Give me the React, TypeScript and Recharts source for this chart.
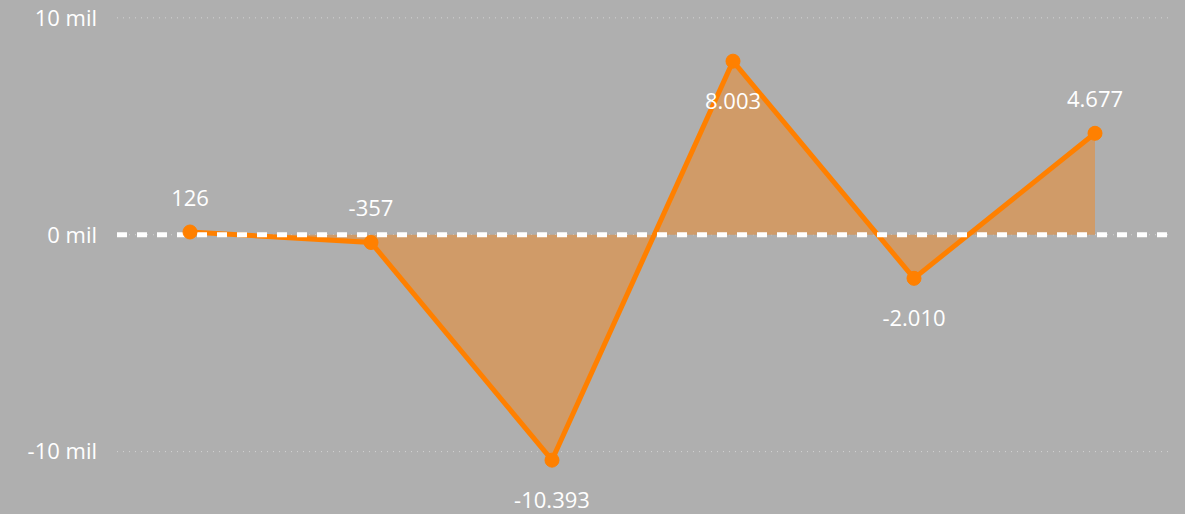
import { ComposedChart, Area, XAxis, YAxis, CartesianGrid, ReferenceLine, LabelList } from "recharts"

const categories = ["P1", "P2", "P3", "P4", "P5", "P6"]
const values = [126, -357, -10393, 8003, -2010, 4677]
const yTicks = [-10000, 0, 10000]

const data = categories.map((name, i) => ({ name, value: values[i] }))

const formatNumber = (v: number) => {
  const s = Math.abs(v).toString().replace(/\B(?=(\d{3})+(?!\d))/g, ".")
  return v < 0 ? `-${s}` : s
}

const formatTick = (v: number) => `${Math.round(v / 1000)} mil`

const ValueLabel = (props: any) => {
  const { x, y, value } = props
  // near the top edge or clearly negative -> below the point
  const below = y < 80 || value < -1000
  return (
    <text
      x={x}
      y={below ? y + 48 : y - 26}
      fill="#ffffff"
      fontSize={22}
      textAnchor="middle"
    >
      {formatNumber(value)}
    </text>
  )
}

export default function App() {
  return (
    <div
      style={{
        position: "absolute",
        left: 0,
        top: 0,
        width: 1185,
        height: 514,
        background: "#afafaf",
        fontFamily: "'Open Sans', sans-serif",
      }}
    >
      <ComposedChart width={1185} height={514} data={data} margin={{ top: 7, right: 15, bottom: 19, left: 0 }}>
        <CartesianGrid vertical={false} stroke="#d4d4d4" strokeDasharray="1 5" horizontalValues={yTicks} />
        <XAxis dataKey="name" hide padding={{ left: 73, right: 75 }} />
        <YAxis
          width={117}
          domain={[-12000, 10500]}
          ticks={yTicks}
          tickFormatter={formatTick}
          axisLine={false}
          tickLine={false}
          tickSize={0}
          tickMargin={20}
          tick={{ fill: "#ffffff", fontSize: 22 }}
        />
        <ReferenceLine y={0} stroke="#ffffff" strokeWidth={5} strokeDasharray="10 10" />
        <Area
          type="linear"
          dataKey="value"
          stroke="#ff8000"
          strokeWidth={5}
          fill="#d09b68"
          fillOpacity={1}
          dot={{ r: 7, fill: "#ff8000", stroke: "#ff8000", strokeWidth: 1 }}
          activeDot={false}
          isAnimationActive={false}
        >
          <LabelList dataKey="value" content={<ValueLabel />} />
        </Area>
      </ComposedChart>
    </div>
  )
}
